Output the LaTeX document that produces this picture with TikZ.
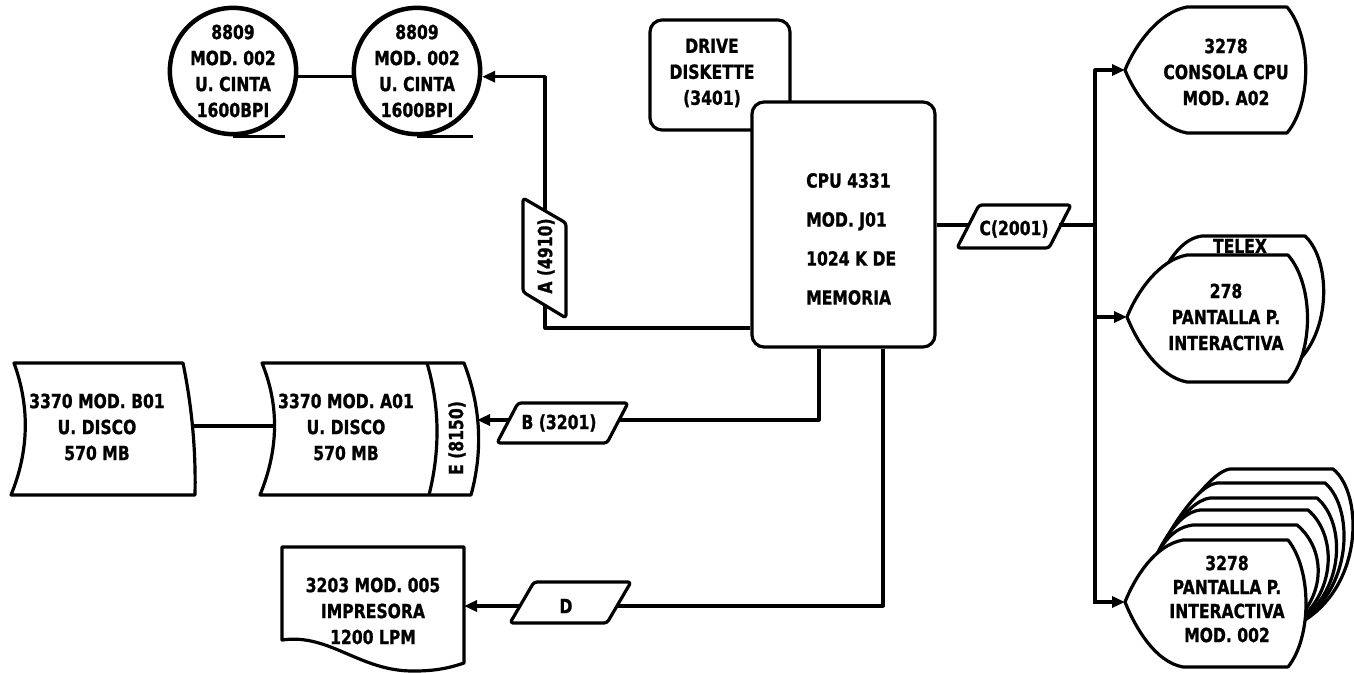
\documentclass[tikz,border=0pt]{standalone}
\usepackage{fontspec}
\setmainfont{DejaVu Sans}[FakeStretch=0.8, BoldFeatures={FakeBold=1.0}]
\usetikzlibrary{arrows.meta}
\tikzset{
  ln/.style={line width=3.2pt, line join=round},
  arr/.style={ln, -{Triangle[length=13pt,width=11pt]}},
  shp/.style={draw, line width=3.2pt, fill=white, line join=round},
  lbl/.style={font=\bfseries\fontsize{19.5}{26}\selectfont, align=center, inner sep=0pt},
  tape/.style={circle, draw, line width=4.5pt, minimum size=125pt, fill=white, lbl},
  rbox/.style={draw, line width=3.2pt, rounded corners=12pt, fill=white, inner sep=0pt},
}
\newcommand\frontdisp[7]{%
  \draw[shp] (#1,#2) .. controls ({#1+10},{#2-25}) and ({#3-28},{#4+5}) .. (#3,#4) -- (#5,#4)
    .. controls ({#7+7},{#4+30}) and ({#7+7},{#6-30}) .. (#5,#6) -- (#3,#6)
    .. controls ({#3-28},{#6-5}) and ({#1+10},{#2+25}) .. cycle;}
\newcommand\backdisp[8]{%
  \draw[shp] (#1,#2) .. controls ({#1+12},{#2-28}) and ({#3-25},{#4+3}) .. (#3,#4) -- (#5,#4)
    .. controls ({#6+12},{#4+25}) and ({#6+12},{#8-30}) .. (#7,#8) -- cycle;}
\begin{document}
\begin{tikzpicture}[x=1pt,y=-1pt]
\useasboundingbox (0,0) rectangle (1354,672);
\fill[white] (0,0) rectangle (1354,672);

% ---- tape units
\node[tape] (t1) at (233,71) {8809\\MOD. 002\\U. CINTA\\1600BPI};
\node[tape] (t2) at (417,71) {8809\\MOD. 002\\U. CINTA\\1600BPI};
\draw[ln] (t1.south) -- ++(52,0);
\draw[ln] (t2.south) -- ++(56,0);
\draw[ln] (t1.-5) -- (t2.185);

% ---- diskette and CPU
\node[rbox, minimum width=140pt, minimum height=110pt] (disk) at (720,75) {};
\node[lbl] (disktxt) at (712,73) {DRIVE\\DISKETTE\\(3401)};
\node[rbox, minimum width=183pt, minimum height=245pt] (cpu) at (843.5,224.5) {};
\node[lbl, align=left, anchor=west, font=\bfseries\fontsize{19.5}{39}\selectfont] (cputxt) at (806,239) {CPU 4331\\MOD. J01\\1024 K DE\\MEMORIA};

% ---- channel A
\draw[shp, rounded corners=3pt] (523,198) -- (566,223) -- (566,318) -- (523,292) -- cycle;
\node[lbl, rotate=90] (atxt) at (546,256) {A (4910)};
\coordinate (aTop) at (545,211);
\coordinate (aBot) at (545,305);
\coordinate (yA) at (0,328);
\draw[arr] (aTop) |- (t2.-5);
\draw[ln] (cpu.west |- yA) -| (aBot);

% ---- channel C and displays
\draw[shp, rounded corners=3pt] (957,248) -- (979,205) -- (1071,205) -- (1049,248) -- cycle;
\node[lbl] (ctxt) at (1014,229) {C(2001)};
\coordinate (cL) at (969,225);
\coordinate (cR) at (1061,225);
\coordinate (busT) at (1095,70);
\coordinate (d1) at (1125,70);
\coordinate (d2) at (1127,317);
\coordinate (d3) at (1125,602);
\draw[ln] (cpu.east |- cL) -- (cL);
\draw[ln, line cap=rect] (cR) -- (cR -| busT);
\draw[arr, line cap=rect] (busT |- d3) -- (busT) -- (d1);
\draw[arr, line cap=rect] (busT |- d3) -- (d3);
\draw[arr] (busT |- d2) -- (d2);

% display 1
\frontdisp{1125}{70}{1187}{7}{1287}{133}{1305}
\node[lbl] (disp1) at (1226,72) {3278\\CONSOLA CPU\\MOD. A02};

% display 2 (telex behind)
\backdisp{1150}{300}{1202}{236}{1305}{1320}{1290}{368}
\node[lbl] (telex) at (1240,246) {TELEX};
\frontdisp{1127}{317}{1187}{255}{1288}{382}{1307}
\node[lbl] (disp2) at (1226,317) {278\\PANTALLA P.\\INTERACTIVA};

% display 3 (stack)
\backdisp{1145}{580}{1230}{469}{1333}{1353}{1285}{630}
\backdisp{1145}{580}{1217}{483}{1325}{1343}{1285}{630}
\backdisp{1145}{580}{1210}{498}{1317}{1335}{1285}{630}
\backdisp{1145}{580}{1200}{510}{1308}{1326}{1285}{630}
\backdisp{1145}{580}{1193}{525}{1297}{1315}{1285}{630}
\frontdisp{1125}{602}{1183}{540}{1288}{667}{1305}
\node[lbl, font=\bfseries\fontsize{19.5}{24}\selectfont] (disp3) at (1227,599) {3278\\PANTALLA P.\\INTERACTIVA\\MOD. 002};

% ---- disks
\draw[shp] (14,363) -- (183,363) .. controls (192,407) and (196,451) .. (195,495) -- (11,495) .. controls (29,451) and (30,407) .. (14,363) -- cycle;
\node[lbl] (diskB) at (97,427) {3370 MOD. B01\\U. DISCO\\570 MB};
\draw[shp] (262,363) -- (464,363) .. controls (481,407) and (483,451) .. (471,495) -- (260,495) .. controls (278,451) and (280,407) .. (262,363) -- cycle;
\draw[ln] (427,363) .. controls (440,407) and (440,451) .. (429,495);
\node[lbl] (diskA) at (346,427) {3370 MOD. A01\\U. DISCO\\570 MB};
\node[lbl, rotate=90] (etxt) at (457,438) {E (8150)};
\coordinate (k1) at (192,426);
\coordinate (k2) at (275,426);
\draw[ln] (k1) -- (k2);

% ---- channel B
\draw[shp, rounded corners=3pt] (497,443) -- (518,403) -- (628,403) -- (607,443) -- cycle;
\node[lbl] (btxt) at (559,423) {B (3201)};
\coordinate (bL) at (509,420);
\coordinate (bR) at (619,420);
\coordinate (eR) at (477,420);
\coordinate (x819) at (819,0);
\draw[ln] (cpu.south -| x819) |- (bR);
\draw[arr] (bL) -- (eR);

% ---- channel D and printer
\draw[shp] (282,547) -- (464,547) -- (464,663) .. controls (455,666) and (440,671) .. (415,671) .. controls (360,672) and (330,633) .. (282,640) -- cycle;
\node[lbl] (prn) at (373,611) {3203 MOD. 005\\IMPRESORA\\1200 LPM};
\draw[shp, rounded corners=3pt] (510,623) -- (534,582) -- (631,582) -- (607,623) -- cycle;
\node[lbl] (dtxt) at (566,606) {D};
\coordinate (dL) at (520,606);
\coordinate (dR) at (617,606);
\coordinate (prnR) at (464,606);
\coordinate (x883) at (883,0);
\draw[ln] (cpu.south -| x883) |- (dR);
\draw[arr] (dL) -- (prnR);
\end{tikzpicture}
\end{document}
